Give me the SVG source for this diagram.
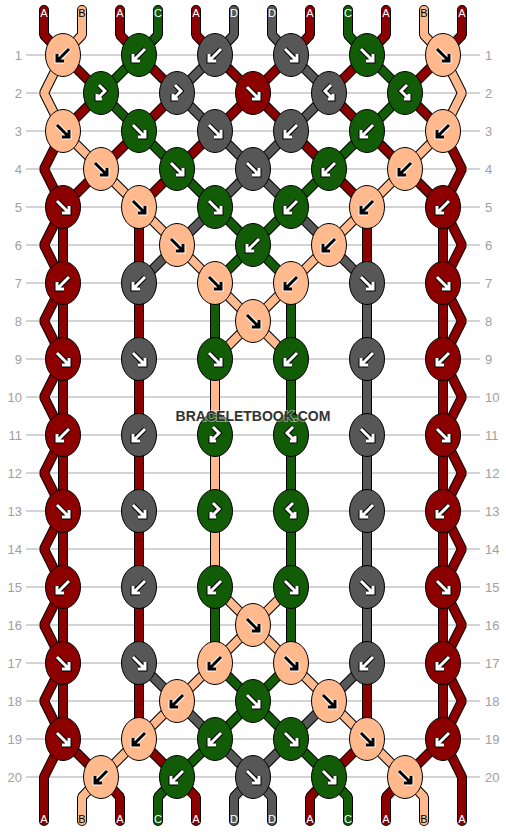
<svg xmlns="http://www.w3.org/2000/svg" xmlns:xlink="http://www.w3.org/1999/xlink" width="506" height="832" viewBox="0 0 506 832">
<style>
.grid line{stroke:#c4c4c4;stroke-width:1.4}
.rn{font-family:"Liberation Sans",Arial,sans-serif;font-size:13px;fill:#a0a0a0}
.rl{text-anchor:end}
.rr{text-anchor:start}
.ol{stroke:#000;stroke-width:10;fill:none;stroke-linecap:round;stroke-linejoin:bevel}
.cf{stroke-width:8;fill:none;stroke-linecap:round;stroke-linejoin:bevel}
.sA{stroke:#8c0000}
.sB{stroke:#ffb98c}
.sC{stroke:#125c07}
.sD{stroke:#575757}
ellipse{stroke:#000;stroke-width:1}
.kA{fill:#8c0000}
.kB{fill:#ffb98c}
.kC{fill:#125c07}
.kD{fill:#575757}
.ao{fill:none;stroke-width:5;stroke-linejoin:miter;stroke-linecap:butt}
.ai{fill:none;stroke-width:3;stroke-linejoin:miter;stroke-linecap:butt}
.w .ao{stroke:#000}
.w .ai{stroke:#fff}
.b .ao{stroke:#fff}
.b .ai{stroke:#000}
.lbl{font-family:"Liberation Sans",Arial,sans-serif;font-size:11px;text-anchor:middle}
.lw{fill:#fff}
.lb{fill:#000}
.wm{font-family:"Liberation Sans",Arial,sans-serif;font-size:14px;font-weight:bold;fill:#333;text-anchor:middle;stroke:#fff;stroke-opacity:0.45;stroke-width:2;paint-order:stroke}
</style>
<defs>
<path id="pbw" d="M6,-6 L-5,5 M-6,-1 V6 H1"/>
<path id="pfw" d="M-6,-6 L5,5 M6,-1 V6 H-1"/>
<path id="pbf" d="M-2,-8 L4,-2 L-4,6 M-4,1 V6 H1"/>
<path id="pfb" d="M2,-8 L-4,-2 L4,6 M4,1 V6 H-1"/>
<g id="wbw" class="w"><use href="#pbw" class="ao"/><use href="#pbw" class="ai"/></g>
<g id="wfw" class="w"><use href="#pfw" class="ao"/><use href="#pfw" class="ai"/></g>
<g id="wbf" class="w"><use href="#pbf" class="ao"/><use href="#pbf" class="ai"/></g>
<g id="wfb" class="w"><use href="#pfb" class="ao"/><use href="#pfb" class="ai"/></g>
<g id="bbw" class="b"><use href="#pbw" class="ao"/><use href="#pbw" class="ai"/></g>
<g id="bfw" class="b"><use href="#pfw" class="ao"/><use href="#pfw" class="ai"/></g>
<g id="strA">
<path d="M44,10 V35 L63,55 M120,10 V35 L139,55 M196,10 V35 L215,55 M310,10 V35 L291,55 M386,10 V35 L367,55 M462,10 V35 L443,55"/>
<path d="M63,55 L101,93 M139,55 L177,93 M215,55 L253,93 M291,55 L253,93 M367,55 L329,93 M443,55 L405,93"/>
<path d="M101,93 L63,131 M177,93 L139,131 M253,93 L215,131 M253,93 L291,131 M329,93 L367,131 M405,93 L443,131"/>
<path d="M63,131 L44,169 L63,207 M443,131 L462,169 L443,207"/>
<path d="M139,131 L101,169 M215,131 L177,169 M291,131 L329,169 M367,131 L405,169"/>
<path d="M101,169 L63,207 M177,169 L139,207 M329,169 L367,207 M405,169 L443,207"/>
<path d="M63,207 V739 M139,207 V739 M443,207 V739 M367,207 V283 M367,663 V739"/>
<path d="M63,207 L44,245 L63,283 L44,321 L63,359 L44,397 L63,435 L44,473 L63,511 L44,549 L63,587 L44,625 L63,663 L44,701 L63,739 L44,777 V821"/>
<path d="M443,207 L462,245 L443,283 L462,321 L443,359 L462,397 L443,435 L462,473 L443,511 L462,549 L443,587 L462,625 L443,663 L462,701 L443,739 L462,777 V821"/>
<path d="M63,739 L101,777 M139,739 L177,777 M367,739 L329,777 M443,739 L405,777"/>
<path d="M101,777 L120,797 V821 M177,777 L196,797 V821 M329,777 L310,797 V821 M405,777 L386,797 V821"/>
</g>
<g id="strB">
<path d="M82,10 V35 L63,55 M424,10 V35 L443,55"/>
<path d="M63,55 L44,93 L63,131 M443,55 L462,93 L443,131"/>
<path d="M63,131 L101,169 M443,131 L405,169 M101,169 L139,207 M405,169 L367,207"/>
<path d="M139,207 L177,245 M367,207 L329,245 M177,245 L215,283 M329,245 L291,283"/>
<path d="M215,283 L253,321 M291,283 L253,321 M253,321 L215,359 M253,321 L291,359"/>
<path d="M215,359 V587"/>
<path d="M215,587 L253,625 M291,587 L253,625 M253,625 L215,663 M253,625 L291,663"/>
<path d="M215,663 L177,701 M291,663 L329,701 M177,701 L139,739 M329,701 L367,739"/>
<path d="M139,739 L101,777 M367,739 L405,777"/>
<path d="M101,777 L82,797 V821 M405,777 L424,797 V821"/>
</g>
<g id="strC">
<path d="M158,10 V35 L139,55 M348,10 V35 L367,55"/>
<path d="M139,55 L101,93 M367,55 L405,93 M101,93 L139,131 M405,93 L367,131"/>
<path d="M139,131 L177,169 M367,131 L329,169 M177,169 L215,207 M329,169 L291,207"/>
<path d="M215,207 L253,245 M291,207 L253,245 M253,245 L215,283 M253,245 L291,283"/>
<path d="M215,283 V359 M215,587 V663 M291,283 V663"/>
<path d="M215,663 L253,701 M291,663 L253,701 M253,701 L215,739 M253,701 L291,739"/>
<path d="M215,739 L177,777 M291,739 L329,777"/>
<path d="M177,777 L158,797 V821 M329,777 L348,797 V821"/>
</g>
<g id="strD">
<path d="M234,10 V35 L215,55 M272,10 V35 L291,55"/>
<path d="M215,55 L177,93 M291,55 L329,93 M177,93 L215,131 M329,93 L291,131"/>
<path d="M215,131 L253,169 M291,131 L253,169 M253,169 L215,207 M253,169 L291,207"/>
<path d="M215,207 L177,245 M291,207 L329,245 M177,245 L139,283 M329,245 L367,283"/>
<path d="M367,283 V663"/>
<path d="M139,663 L177,701 M367,663 L329,701 M177,701 L215,739 M329,701 L291,739"/>
<path d="M215,739 L253,777 M291,739 L253,777"/>
<path d="M253,777 L234,797 V821 M253,777 L272,797 V821"/>
</g>
</defs>
<rect width="506" height="832" fill="#fff"/>
<g id="grid" class="grid">
<line x1="26" y1="55" x2="480" y2="55"/><line x1="26" y1="93" x2="480" y2="93"/><line x1="26" y1="131" x2="480" y2="131"/><line x1="26" y1="169" x2="480" y2="169"/><line x1="26" y1="207" x2="480" y2="207"/><line x1="26" y1="245" x2="480" y2="245"/><line x1="26" y1="283" x2="480" y2="283"/><line x1="26" y1="321" x2="480" y2="321"/><line x1="26" y1="359" x2="480" y2="359"/><line x1="26" y1="397" x2="480" y2="397"/><line x1="26" y1="435" x2="480" y2="435"/><line x1="26" y1="473" x2="480" y2="473"/><line x1="26" y1="511" x2="480" y2="511"/><line x1="26" y1="549" x2="480" y2="549"/><line x1="26" y1="587" x2="480" y2="587"/><line x1="26" y1="625" x2="480" y2="625"/><line x1="26" y1="663" x2="480" y2="663"/><line x1="26" y1="701" x2="480" y2="701"/><line x1="26" y1="739" x2="480" y2="739"/><line x1="26" y1="777" x2="480" y2="777"/>
</g>
<g id="row-numbers" class="rn">
<text class="rl" x="22" y="60">1</text><text class="rl" x="22" y="98">2</text><text class="rl" x="22" y="136">3</text><text class="rl" x="22" y="174">4</text><text class="rl" x="22" y="212">5</text><text class="rl" x="22" y="250">6</text><text class="rl" x="22" y="288">7</text><text class="rl" x="22" y="326">8</text><text class="rl" x="22" y="364">9</text><text class="rl" x="22" y="402">10</text><text class="rl" x="22" y="440">11</text><text class="rl" x="22" y="478">12</text><text class="rl" x="22" y="516">13</text><text class="rl" x="22" y="554">14</text><text class="rl" x="22" y="592">15</text><text class="rl" x="22" y="630">16</text><text class="rl" x="22" y="668">17</text><text class="rl" x="22" y="706">18</text><text class="rl" x="22" y="744">19</text><text class="rl" x="22" y="782">20</text>
<text class="rr" x="485" y="60">1</text><text class="rr" x="485" y="98">2</text><text class="rr" x="485" y="136">3</text><text class="rr" x="485" y="174">4</text><text class="rr" x="485" y="212">5</text><text class="rr" x="485" y="250">6</text><text class="rr" x="485" y="288">7</text><text class="rr" x="485" y="326">8</text><text class="rr" x="485" y="364">9</text><text class="rr" x="485" y="402">10</text><text class="rr" x="485" y="440">11</text><text class="rr" x="485" y="478">12</text><text class="rr" x="485" y="516">13</text><text class="rr" x="485" y="554">14</text><text class="rr" x="485" y="592">15</text><text class="rr" x="485" y="630">16</text><text class="rr" x="485" y="668">17</text><text class="rr" x="485" y="706">18</text><text class="rr" x="485" y="744">19</text><text class="rr" x="485" y="782">20</text>
</g>
<g id="connectors">
<use href="#strA" class="ol"/><use href="#strA" class="cf sA"/>
<use href="#strD" class="ol"/><use href="#strD" class="cf sD"/>
<use href="#strC" class="ol"/><use href="#strC" class="cf sC"/>
<use href="#strB" class="ol"/><use href="#strB" class="cf sB"/>
</g>
<g id="string-labels" class="lbl">
<text class="lw" x="44" y="17">A</text><text class="lb" x="82" y="17">B</text><text class="lw" x="120" y="17">A</text><text class="lw" x="158" y="17">C</text><text class="lw" x="196" y="17">A</text><text class="lw" x="234" y="17">D</text><text class="lw" x="272" y="17">D</text><text class="lw" x="310" y="17">A</text><text class="lw" x="348" y="17">C</text><text class="lw" x="386" y="17">A</text><text class="lb" x="424" y="17">B</text><text class="lw" x="462" y="17">A</text>
<text class="lw" x="44" y="823">A</text><text class="lb" x="82" y="823">B</text><text class="lw" x="120" y="823">A</text><text class="lw" x="158" y="823">C</text><text class="lw" x="196" y="823">A</text><text class="lw" x="234" y="823">D</text><text class="lw" x="272" y="823">D</text><text class="lw" x="310" y="823">A</text><text class="lw" x="348" y="823">C</text><text class="lw" x="386" y="823">A</text><text class="lb" x="424" y="823">B</text><text class="lw" x="462" y="823">A</text>
</g>
<g id="knots">
<g id="k1-1"><ellipse class="kB" cx="63" cy="55" rx="17.5" ry="21.5"/><use href="#bbw" x="63" y="55"/></g>
<g id="k1-2"><ellipse class="kC" cx="139" cy="55" rx="17.5" ry="21.5"/><use href="#wbw" x="139" y="55"/></g>
<g id="k1-3"><ellipse class="kD" cx="215" cy="55" rx="17.5" ry="21.5"/><use href="#wbw" x="215" y="55"/></g>
<g id="k1-4"><ellipse class="kD" cx="291" cy="55" rx="17.5" ry="21.5"/><use href="#wfw" x="291" y="55"/></g>
<g id="k1-5"><ellipse class="kC" cx="367" cy="55" rx="17.5" ry="21.5"/><use href="#wfw" x="367" y="55"/></g>
<g id="k1-6"><ellipse class="kB" cx="443" cy="55" rx="17.5" ry="21.5"/><use href="#bfw" x="443" y="55"/></g>
<g id="k2-1"><ellipse class="kC" cx="101" cy="93" rx="17.5" ry="21.5"/><use href="#wbf" x="101" y="93"/></g>
<g id="k2-2"><ellipse class="kD" cx="177" cy="93" rx="17.5" ry="21.5"/><use href="#wbf" x="177" y="93"/></g>
<g id="k2-3"><ellipse class="kA" cx="253" cy="93" rx="17.5" ry="21.5"/><use href="#wfw" x="253" y="93"/></g>
<g id="k2-4"><ellipse class="kD" cx="329" cy="93" rx="17.5" ry="21.5"/><use href="#wfb" x="329" y="93"/></g>
<g id="k2-5"><ellipse class="kC" cx="405" cy="93" rx="17.5" ry="21.5"/><use href="#wfb" x="405" y="93"/></g>
<g id="k3-1"><ellipse class="kB" cx="63" cy="131" rx="17.5" ry="21.5"/><use href="#bfw" x="63" y="131"/></g>
<g id="k3-2"><ellipse class="kC" cx="139" cy="131" rx="17.5" ry="21.5"/><use href="#wfw" x="139" y="131"/></g>
<g id="k3-3"><ellipse class="kD" cx="215" cy="131" rx="17.5" ry="21.5"/><use href="#wfw" x="215" y="131"/></g>
<g id="k3-4"><ellipse class="kD" cx="291" cy="131" rx="17.5" ry="21.5"/><use href="#wbw" x="291" y="131"/></g>
<g id="k3-5"><ellipse class="kC" cx="367" cy="131" rx="17.5" ry="21.5"/><use href="#wbw" x="367" y="131"/></g>
<g id="k3-6"><ellipse class="kB" cx="443" cy="131" rx="17.5" ry="21.5"/><use href="#bbw" x="443" y="131"/></g>
<g id="k4-1"><ellipse class="kB" cx="101" cy="169" rx="17.5" ry="21.5"/><use href="#bfw" x="101" y="169"/></g>
<g id="k4-2"><ellipse class="kC" cx="177" cy="169" rx="17.5" ry="21.5"/><use href="#wfw" x="177" y="169"/></g>
<g id="k4-3"><ellipse class="kD" cx="253" cy="169" rx="17.5" ry="21.5"/><use href="#wfw" x="253" y="169"/></g>
<g id="k4-4"><ellipse class="kC" cx="329" cy="169" rx="17.5" ry="21.5"/><use href="#wbw" x="329" y="169"/></g>
<g id="k4-5"><ellipse class="kB" cx="405" cy="169" rx="17.5" ry="21.5"/><use href="#bbw" x="405" y="169"/></g>
<g id="k5-1"><ellipse class="kA" cx="63" cy="207" rx="17.5" ry="21.5"/><use href="#wfw" x="63" y="207"/></g>
<g id="k5-2"><ellipse class="kB" cx="139" cy="207" rx="17.5" ry="21.5"/><use href="#bfw" x="139" y="207"/></g>
<g id="k5-3"><ellipse class="kC" cx="215" cy="207" rx="17.5" ry="21.5"/><use href="#wfw" x="215" y="207"/></g>
<g id="k5-4"><ellipse class="kC" cx="291" cy="207" rx="17.5" ry="21.5"/><use href="#wbw" x="291" y="207"/></g>
<g id="k5-5"><ellipse class="kB" cx="367" cy="207" rx="17.5" ry="21.5"/><use href="#bbw" x="367" y="207"/></g>
<g id="k5-6"><ellipse class="kA" cx="443" cy="207" rx="17.5" ry="21.5"/><use href="#wbw" x="443" y="207"/></g>
<g id="k6-2"><ellipse class="kB" cx="177" cy="245" rx="17.5" ry="21.5"/><use href="#bfw" x="177" y="245"/></g>
<g id="k6-3"><ellipse class="kC" cx="253" cy="245" rx="17.5" ry="21.5"/><use href="#wbw" x="253" y="245"/></g>
<g id="k6-4"><ellipse class="kB" cx="329" cy="245" rx="17.5" ry="21.5"/><use href="#bbw" x="329" y="245"/></g>
<g id="k7-1"><ellipse class="kA" cx="63" cy="283" rx="17.5" ry="21.5"/><use href="#wbw" x="63" y="283"/></g>
<g id="k7-2"><ellipse class="kD" cx="139" cy="283" rx="17.5" ry="21.5"/><use href="#wbw" x="139" y="283"/></g>
<g id="k7-3"><ellipse class="kB" cx="215" cy="283" rx="17.5" ry="21.5"/><use href="#bfw" x="215" y="283"/></g>
<g id="k7-4"><ellipse class="kB" cx="291" cy="283" rx="17.5" ry="21.5"/><use href="#bbw" x="291" y="283"/></g>
<g id="k7-5"><ellipse class="kD" cx="367" cy="283" rx="17.5" ry="21.5"/><use href="#wfw" x="367" y="283"/></g>
<g id="k7-6"><ellipse class="kA" cx="443" cy="283" rx="17.5" ry="21.5"/><use href="#wfw" x="443" y="283"/></g>
<g id="k8-3"><ellipse class="kB" cx="253" cy="321" rx="17.5" ry="21.5"/><use href="#bfw" x="253" y="321"/></g>
<g id="k9-1"><ellipse class="kA" cx="63" cy="359" rx="17.5" ry="21.5"/><use href="#wfw" x="63" y="359"/></g>
<g id="k9-2"><ellipse class="kD" cx="139" cy="359" rx="17.5" ry="21.5"/><use href="#wfw" x="139" y="359"/></g>
<g id="k9-3"><ellipse class="kC" cx="215" cy="359" rx="17.5" ry="21.5"/><use href="#wfw" x="215" y="359"/></g>
<g id="k9-4"><ellipse class="kC" cx="291" cy="359" rx="17.5" ry="21.5"/><use href="#wbw" x="291" y="359"/></g>
<g id="k9-5"><ellipse class="kD" cx="367" cy="359" rx="17.5" ry="21.5"/><use href="#wbw" x="367" y="359"/></g>
<g id="k9-6"><ellipse class="kA" cx="443" cy="359" rx="17.5" ry="21.5"/><use href="#wbw" x="443" y="359"/></g>
<g id="k11-1"><ellipse class="kA" cx="63" cy="435" rx="17.5" ry="21.5"/><use href="#wbw" x="63" y="435"/></g>
<g id="k11-2"><ellipse class="kD" cx="139" cy="435" rx="17.5" ry="21.5"/><use href="#wbw" x="139" y="435"/></g>
<g id="k11-3"><ellipse class="kC" cx="215" cy="435" rx="17.5" ry="21.5"/><use href="#wbf" x="215" y="435"/></g>
<g id="k11-4"><ellipse class="kC" cx="291" cy="435" rx="17.5" ry="21.5"/><use href="#wfb" x="291" y="435"/></g>
<g id="k11-5"><ellipse class="kD" cx="367" cy="435" rx="17.5" ry="21.5"/><use href="#wfw" x="367" y="435"/></g>
<g id="k11-6"><ellipse class="kA" cx="443" cy="435" rx="17.5" ry="21.5"/><use href="#wfw" x="443" y="435"/></g>
<g id="k13-1"><ellipse class="kA" cx="63" cy="511" rx="17.5" ry="21.5"/><use href="#wfw" x="63" y="511"/></g>
<g id="k13-2"><ellipse class="kD" cx="139" cy="511" rx="17.5" ry="21.5"/><use href="#wfw" x="139" y="511"/></g>
<g id="k13-3"><ellipse class="kC" cx="215" cy="511" rx="17.5" ry="21.5"/><use href="#wbf" x="215" y="511"/></g>
<g id="k13-4"><ellipse class="kC" cx="291" cy="511" rx="17.5" ry="21.5"/><use href="#wfb" x="291" y="511"/></g>
<g id="k13-5"><ellipse class="kD" cx="367" cy="511" rx="17.5" ry="21.5"/><use href="#wbw" x="367" y="511"/></g>
<g id="k13-6"><ellipse class="kA" cx="443" cy="511" rx="17.5" ry="21.5"/><use href="#wbw" x="443" y="511"/></g>
<g id="k15-1"><ellipse class="kA" cx="63" cy="587" rx="17.5" ry="21.5"/><use href="#wbw" x="63" y="587"/></g>
<g id="k15-2"><ellipse class="kD" cx="139" cy="587" rx="17.5" ry="21.5"/><use href="#wbw" x="139" y="587"/></g>
<g id="k15-3"><ellipse class="kC" cx="215" cy="587" rx="17.5" ry="21.5"/><use href="#wbw" x="215" y="587"/></g>
<g id="k15-4"><ellipse class="kC" cx="291" cy="587" rx="17.5" ry="21.5"/><use href="#wfw" x="291" y="587"/></g>
<g id="k15-5"><ellipse class="kD" cx="367" cy="587" rx="17.5" ry="21.5"/><use href="#wfw" x="367" y="587"/></g>
<g id="k15-6"><ellipse class="kA" cx="443" cy="587" rx="17.5" ry="21.5"/><use href="#wfw" x="443" y="587"/></g>
<g id="k16-3"><ellipse class="kB" cx="253" cy="625" rx="17.5" ry="21.5"/><use href="#bfw" x="253" y="625"/></g>
<g id="k17-1"><ellipse class="kA" cx="63" cy="663" rx="17.5" ry="21.5"/><use href="#wfw" x="63" y="663"/></g>
<g id="k17-2"><ellipse class="kD" cx="139" cy="663" rx="17.5" ry="21.5"/><use href="#wfw" x="139" y="663"/></g>
<g id="k17-3"><ellipse class="kB" cx="215" cy="663" rx="17.5" ry="21.5"/><use href="#bbw" x="215" y="663"/></g>
<g id="k17-4"><ellipse class="kB" cx="291" cy="663" rx="17.5" ry="21.5"/><use href="#bfw" x="291" y="663"/></g>
<g id="k17-5"><ellipse class="kD" cx="367" cy="663" rx="17.5" ry="21.5"/><use href="#wbw" x="367" y="663"/></g>
<g id="k17-6"><ellipse class="kA" cx="443" cy="663" rx="17.5" ry="21.5"/><use href="#wbw" x="443" y="663"/></g>
<g id="k18-2"><ellipse class="kB" cx="177" cy="701" rx="17.5" ry="21.5"/><use href="#bbw" x="177" y="701"/></g>
<g id="k18-3"><ellipse class="kC" cx="253" cy="701" rx="17.5" ry="21.5"/><use href="#wfw" x="253" y="701"/></g>
<g id="k18-4"><ellipse class="kB" cx="329" cy="701" rx="17.5" ry="21.5"/><use href="#bfw" x="329" y="701"/></g>
<g id="k19-1"><ellipse class="kA" cx="63" cy="739" rx="17.5" ry="21.5"/><use href="#wfw" x="63" y="739"/></g>
<g id="k19-2"><ellipse class="kB" cx="139" cy="739" rx="17.5" ry="21.5"/><use href="#bbw" x="139" y="739"/></g>
<g id="k19-3"><ellipse class="kC" cx="215" cy="739" rx="17.5" ry="21.5"/><use href="#wbw" x="215" y="739"/></g>
<g id="k19-4"><ellipse class="kC" cx="291" cy="739" rx="17.5" ry="21.5"/><use href="#wfw" x="291" y="739"/></g>
<g id="k19-5"><ellipse class="kB" cx="367" cy="739" rx="17.5" ry="21.5"/><use href="#bfw" x="367" y="739"/></g>
<g id="k19-6"><ellipse class="kA" cx="443" cy="739" rx="17.5" ry="21.5"/><use href="#wbw" x="443" y="739"/></g>
<g id="k20-1"><ellipse class="kB" cx="101" cy="777" rx="17.5" ry="21.5"/><use href="#bbw" x="101" y="777"/></g>
<g id="k20-2"><ellipse class="kC" cx="177" cy="777" rx="17.5" ry="21.5"/><use href="#wbw" x="177" y="777"/></g>
<g id="k20-3"><ellipse class="kD" cx="253" cy="777" rx="17.5" ry="21.5"/><use href="#wfw" x="253" y="777"/></g>
<g id="k20-4"><ellipse class="kC" cx="329" cy="777" rx="17.5" ry="21.5"/><use href="#wfw" x="329" y="777"/></g>
<g id="k20-5"><ellipse class="kB" cx="405" cy="777" rx="17.5" ry="21.5"/><use href="#bfw" x="405" y="777"/></g>
</g>
<text id="watermark" class="wm" x="253" y="421">BRACELETBOOK.COM</text>
</svg>
